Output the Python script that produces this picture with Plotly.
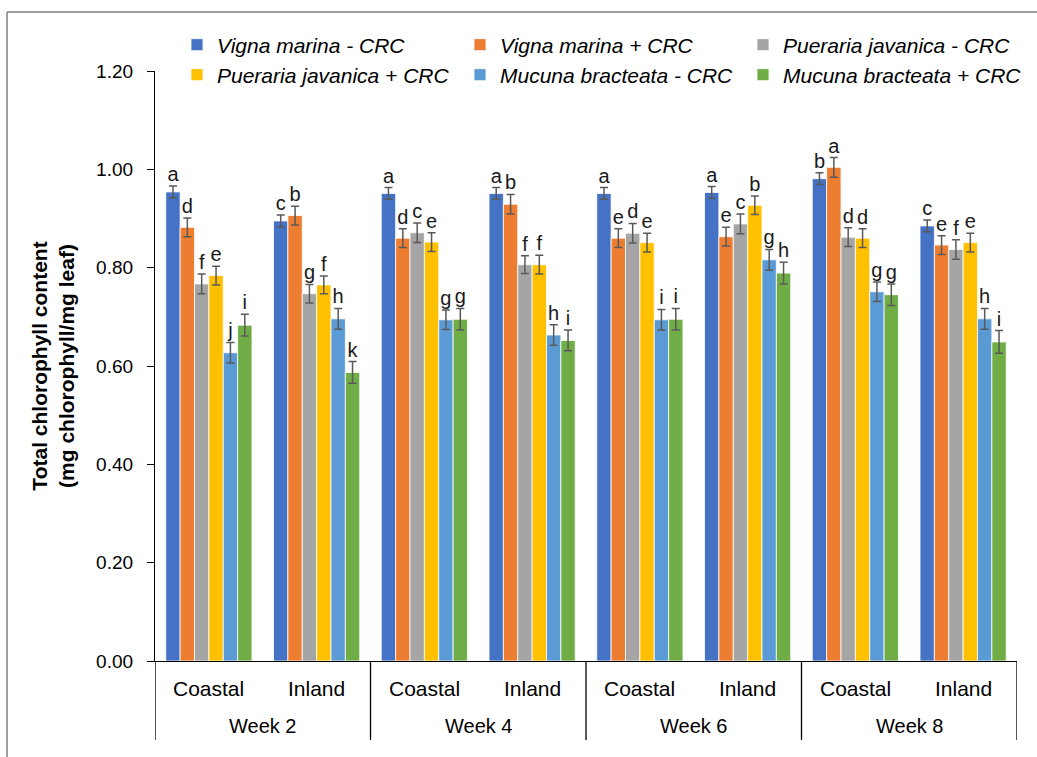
import plotly.graph_objects as go

weeks = ["Week 2", "Week 4", "Week 6", "Week 8"]
sites = ["Coastal", "Inland"]

series_names = [
    "Vigna marina - CRC", "Vigna marina + CRC", "Pueraria javanica - CRC",
    "Pueraria javanica + CRC", "Mucuna bracteata - CRC", "Mucuna bracteata + CRC",
]
colors = ["#4472C4", "#ED7D31", "#A5A5A5", "#FFC000", "#5B9BD5", "#70AD47"]

vm_minus = [0.954, 0.895, 0.951, 0.951, 0.951, 0.953, 0.981, 0.885]
vm_plus = [0.882, 0.906, 0.860, 0.929, 0.860, 0.863, 1.004, 0.846]
pj_minus = [0.767, 0.747, 0.871, 0.806, 0.870, 0.889, 0.862, 0.837]
pj_plus = [0.784, 0.765, 0.852, 0.806, 0.851, 0.927, 0.860, 0.851]
mb_minus = [0.627, 0.696, 0.694, 0.663, 0.694, 0.816, 0.751, 0.696]
mb_plus = [0.683, 0.587, 0.695, 0.652, 0.695, 0.789, 0.745, 0.649]

err_vm_minus = [0.012, 0.012, 0.012, 0.012, 0.012, 0.012, 0.012, 0.012]
err_vm_plus = [0.019, 0.019, 0.019, 0.020, 0.019, 0.019, 0.020, 0.019]
err_pj_minus = [0.020, 0.019, 0.020, 0.018, 0.020, 0.020, 0.019, 0.020]
err_pj_plus = [0.019, 0.018, 0.019, 0.019, 0.019, 0.019, 0.019, 0.019]
err_mb_minus = [0.021, 0.021, 0.020, 0.021, 0.021, 0.021, 0.020, 0.021]
err_mb_plus = [0.022, 0.022, 0.022, 0.021, 0.022, 0.022, 0.022, 0.023]

let_vm_minus = ["a", "c", "a", "a", "a", "a", "b", "c"]
let_vm_plus = ["d", "b", "d", "b", "e", "e", "a", "e"]
let_pj_minus = ["f", "g", "c", "f", "d", "c", "d", "f"]
let_pj_plus = ["e", "f", "e", "f", "e", "b", "d", "e"]
let_mb_minus = ["j", "h", "g", "h", "i", "g", "g", "h"]
let_mb_plus = ["i", "k", "g", "i", "i", "h", "g", "i"]

values = [vm_minus, vm_plus, pj_minus, pj_plus, mb_minus, mb_plus]
errors = [err_vm_minus, err_vm_plus, err_pj_minus, err_pj_plus, err_mb_minus, err_mb_plus]
letters = [let_vm_minus, let_vm_plus, let_pj_minus, let_pj_plus, let_mb_minus, let_mb_plus]

# category keys (week + site), shown with two-level labels below the axis
keys = [f"{w} {s}" for w in weeks for s in sites]
inner_labels = [s for _ in weeks for s in sites]

FONT = "Liberation Sans, Arial, sans-serif"
fig = go.Figure()

for i, (name, col, vals, errs) in enumerate(zip(series_names, colors, values, errors)):
    fig.add_trace(go.Bar(
        x=keys, y=vals, name=name,
        marker=dict(color=col, line=dict(color="white", width=0.8)),
        error_y=dict(type="data", array=errs, visible=True, color="#595959",
                     thickness=1.5, width=4),
        offsetgroup=str(i),
        legend="legend" if i < 3 else "legend2",
    ))

for i, (vals, errs, labs) in enumerate(zip(values, errors, letters)):
    fig.add_trace(go.Scatter(
        x=keys, y=[v + e for v, e in zip(vals, errs)], text=labs,
        mode="text", textposition="top center",
        textfont=dict(family=FONT, size=20, color="#1a1a1a"),
        offsetgroup=str(i), showlegend=False, hoverinfo="skip",
    ))

L, R, T, B = 155, 20, 71, 96
W, H = 1037, 757
pw, ph = W - L - R, H - T - B

def px_x(p):
    return (p - L) / pw

def px_y(p):
    return (H - B - p) / ph

legend_common = dict(
    orientation="h", xanchor="left", yanchor="middle",
    font=dict(family=FONT, size=21, color="black", style="italic"),
    entrywidth=238, entrywidthmode="pixels",
    bgcolor="rgba(0,0,0,0)", itemclick=False,
)

fig.update_layout(
    width=W, height=H,
    margin=dict(l=L, r=R, t=T, b=B, autoexpand=False),
    paper_bgcolor="white", plot_bgcolor="white",
    barmode="group", bargap=0.2, bargroupgap=0,
    scattermode="group", scattergap=0.2,
    font=dict(family=FONT, size=19, color="black"),
    legend=dict(x=px_x(177), y=px_y(45), **legend_common),
    legend2=dict(x=px_x(177), y=px_y(75), **legend_common),
    xaxis=dict(
        type="category", showline=True, linecolor="black", linewidth=1.3,
        ticks="", showticklabels=False, range=[-0.5, len(keys) - 0.5],
        showgrid=False, zeroline=False,
    ),
    yaxis=dict(
        range=[0, 1.2], dtick=0.2, tickformat=".2f",
        showline=True, linecolor="black", linewidth=1.3,
        ticks="outside", ticklen=7, tickcolor="black", tickwidth=1.3,
        ticklabelstandoff=10,
        tickfont=dict(family=FONT, size=19, color="black"),
        showgrid=False, zeroline=False,
        title=dict(text="<b>Total chlorophyll content<br>(mg chlorophyll/mg leaf)</b>",
                   font=dict(family=FONT, size=21, color="black"), standoff=15),
    ),
    showlegend=True,
)

# inner (site) labels
for k, lab in zip(keys, inner_labels):
    fig.add_annotation(x=k, xref="x", y=px_y(688), yref="paper", text=lab,
                       showarrow=False, yanchor="middle",
                       font=dict(family=FONT, size=21, color="black"))
# outer (week) labels, centred across their two sites; dividers at group edges
n_in = len(sites)
for gi, w in enumerate(weeks):
    fig.add_annotation(x=gi * n_in + (n_in - 1) / 2, xref="x", y=px_y(726), yref="paper",
                       text=w, showarrow=False, yanchor="middle",
                       font=dict(family=FONT, size=20, color="black"))
for gi in range(len(weeks) + 1):
    fig.add_shape(type="line", xref="x", yref="paper",
                  x0=gi * n_in - 0.5, x1=gi * n_in - 0.5, y0=0, y1=px_y(740),
                  line=dict(color="black", width=1.3))

# outer chart border (top and left edges visible in the frame)
fig.add_shape(type="line", xref="paper", yref="paper",
              x0=px_x(7), x1=px_x(1040), y0=px_y(12), y1=px_y(12),
              line=dict(color="#7f7f7f", width=1.5))
fig.add_shape(type="line", xref="paper", yref="paper",
              x0=px_x(7), x1=px_x(7), y0=px_y(12), y1=px_y(760),
              line=dict(color="#7f7f7f", width=1.5))

fig.write_html("out.html", config={"displayModeBar": False},
               post_script="document.body.style.margin='0';document.body.style.overflow='hidden';")
